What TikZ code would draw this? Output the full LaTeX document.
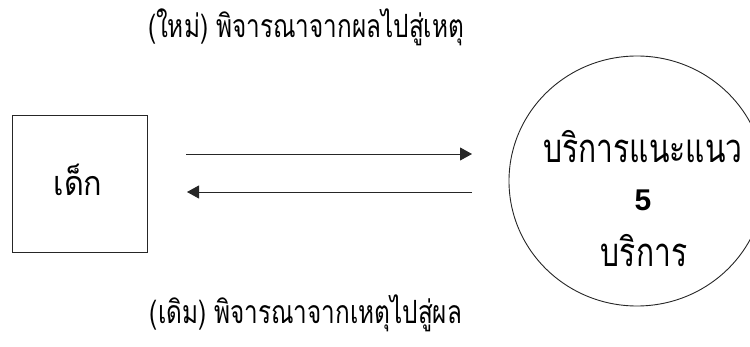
\documentclass[tikz,border=0pt]{standalone}
\usepackage{fontspec}
\usetikzlibrary{arrows.meta}
\newfontfamily\thaicap[Script=Thai,FakeStretch=0.76]{Loma}
\newfontfamily\thaibox[Script=Thai,FakeStretch=0.9]{Loma}
\newfontfamily\thaicirc[Script=Thai,FakeStretch=0.75]{Loma}
\newfontfamily\numfont{Liberation Sans}
\tikzset{
  thin line/.style={draw=black!85, line width=0.9pt},
  flow/.style={thin line, -{Triangle[length=12pt,width=13pt]}},
  caption/.style={font=\thaicap\fontsize{32}{36}\selectfont, inner sep=0pt},
  boxtext/.style={font=\thaibox\fontsize{34}{38}\selectfont, inner sep=0pt},
  circtext/.style={font=\thaicirc\fontsize{40}{44}\selectfont, inner sep=0pt},
}
\begin{document}
\begin{tikzpicture}[x=1pt,y=-1pt]
  \useasboundingbox (0,0) rectangle (750,347);
  \node[caption] (top) at (306,27) {(ใหม่) พิจารณาจากผลไปสู่เหตุ};
  \node[caption] (bot) at (306,313) {(เดิม) พิจารณาจากเหตุไปสู่ผล};
  \node[thin line, minimum width=135pt, minimum height=137pt, inner sep=0pt] (child) at (79.5,183.5) {};
  \node[boxtext] (childtext) at (78,180) {เด็ก};
  \draw[thin line] (637,181) ellipse [x radius=128, y radius=125];
  \coordinate (circ) at (637,181);
  \node[circtext] (l1) at (643,147) {บริการแนะแนว};
  \node[font=\numfont\bfseries\fontsize{30}{32}\selectfont, inner sep=0pt] (l2) at (643,200) {5};
  \node[circtext] (l3) at (644,251) {บริการ};
  \coordinate (a1s) at (186,154);
  \coordinate (a1e) at (472,154);
  \coordinate (a2s) at (472,192);
  \coordinate (a2e) at (187,192);
  \draw[flow] (a1s) -- (a1e);
  \draw[flow] (a2s) -- (a2e);
\end{tikzpicture}
\end{document}
